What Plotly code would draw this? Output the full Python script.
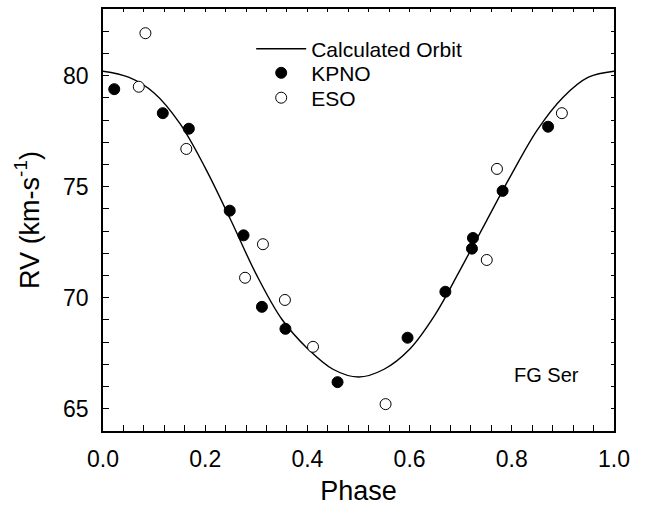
import plotly.graph_objects as go

# Calculated orbit at phase steps of 0.05
orbit_phase = [0.00, 0.05, 0.10, 0.15, 0.20, 0.25, 0.30, 0.35, 0.40, 0.45, 0.50,
               0.55, 0.60, 0.65, 0.70, 0.75, 0.80, 0.85, 0.90, 0.95, 1.00]
orbit_rv = [80.20, 79.93, 79.22, 77.86, 75.85, 73.50, 71.05, 69.03, 67.72, 66.78, 66.43,
            66.78, 67.68, 69.24, 71.30, 73.44, 75.58, 77.56, 79.02, 79.93, 80.20]

# KPNO observations
kpno_phase = [0.022, 0.117, 0.168, 0.248, 0.275, 0.311, 0.357, 0.459, 0.596, 0.670,
              0.724, 0.722, 0.782, 0.871]
kpno_rv = [79.39, 78.31, 77.61, 73.92, 72.81, 69.59, 68.60, 66.20, 68.20, 70.27,
           72.69, 72.21, 74.81, 77.70]

# ESO observations
eso_phase = [0.083, 0.070, 0.163, 0.313, 0.278, 0.356, 0.411, 0.553, 0.751, 0.771, 0.898]
eso_rv = [81.91, 79.50, 76.70, 72.41, 70.90, 69.90, 67.79, 65.21, 71.70, 75.80, 78.31]

x_range = [0, 1]
y_range = [64, 83]
x_ticks = [0.0, 0.2, 0.4, 0.6, 0.8, 1.0]
x_ticklabels = ["0.0", "0.2", "0.4", "0.6", "0.8", "1.0"]
y_ticks = [65, 70, 75, 80]

FONT = "Liberation Sans, Arial, Helvetica, sans-serif"

fig = go.Figure()
fig.add_trace(go.Scatter(
    x=orbit_phase, y=orbit_rv, mode="lines", name="Calculated Orbit", legend="legend",
    line=dict(color="black", width=1.4, shape="spline", smoothing=1.0),
))
fig.add_trace(go.Scatter(
    x=kpno_phase, y=kpno_rv, mode="markers", name="KPNO", legend="legend2",
    marker=dict(symbol="circle", size=11, color="black", line=dict(color="black", width=1)),
))
fig.add_trace(go.Scatter(
    x=eso_phase, y=eso_rv, mode="markers", name="ESO", legend="legend3",
    marker=dict(symbol="circle", size=11, color="white", line=dict(color="black", width=1)),
))
# empty helper trace so the top/right frame axes get drawn
fig.add_trace(go.Scatter(x=[], y=[], xaxis="x2", yaxis="y2", showlegend=False,
                         hoverinfo="skip", mode="markers"))

axis_common = dict(
    showgrid=False, zeroline=False, showline=True, linecolor="black", linewidth=1.5,
    ticks="inside", tickwidth=1, tickcolor="black", mirror=False,
    tickfont=dict(family=FONT, size=23, color="black"), automargin=False,
)

def legend_box(ypos):
    return dict(
        x=0.290, y=ypos, xanchor="left", yanchor="middle",
        bgcolor="rgba(0,0,0,0)", borderwidth=0,
        font=dict(family=FONT, size=21, color="black"),
        tracegroupgap=0, itemwidth=50,
    )

fig.update_layout(
    width=647, height=512,
    margin=dict(l=103, r=33, t=9, b=81),
    paper_bgcolor="white", plot_bgcolor="white",
    font=dict(family=FONT, color="black"),
    showlegend=True,
    legend=legend_box(0.905),
    legend2=legend_box(0.848),
    legend3=legend_box(0.789),
    xaxis=dict(
        range=x_range, tickvals=x_ticks, ticktext=x_ticklabels, ticklen=6,
        ticklabelstandoff=7,
        minor=dict(dtick=0.04, ticks="inside", ticklen=6, tickcolor="black", tickwidth=1),
        title=dict(text="Phase", font=dict(family=FONT, size=27, color="black"), standoff=10),
        **axis_common,
    ),
    yaxis=dict(
        range=y_range, tickvals=y_ticks, ticklen=6,
        ticklabelstandoff=8,
        minor=dict(dtick=1, ticks="inside", ticklen=6, tickcolor="black", tickwidth=1),
        title=dict(text="RV (km-s<sup>-1</sup>)", font=dict(family=FONT, size=27, color="black"), standoff=16),
        **axis_common,
    ),
    xaxis2=dict(
        range=x_range, tickvals=x_ticks, ticklen=3, side="top", overlaying="x", anchor="y2",
        showticklabels=False,
        minor=dict(dtick=0.04, ticks="inside", ticklen=3, tickcolor="black", tickwidth=1),
        **axis_common,
    ),
    yaxis2=dict(
        range=y_range, tickvals=y_ticks, ticklen=3, side="right", overlaying="y", anchor="x2",
        showticklabels=False,
        minor=dict(dtick=1, ticks="inside", ticklen=3, tickcolor="black", tickwidth=1),
        **axis_common,
    ),
    annotations=[dict(
        x=0.80, y=66.5, xref="x", yref="y", xanchor="left", yanchor="middle",
        text="FG Ser", showarrow=False, font=dict(family=FONT, size=20, color="black"),
    )],
)

fig.write_html("out.html", config={"displayModeBar": False},
               post_script="document.body.style.margin='0';")
